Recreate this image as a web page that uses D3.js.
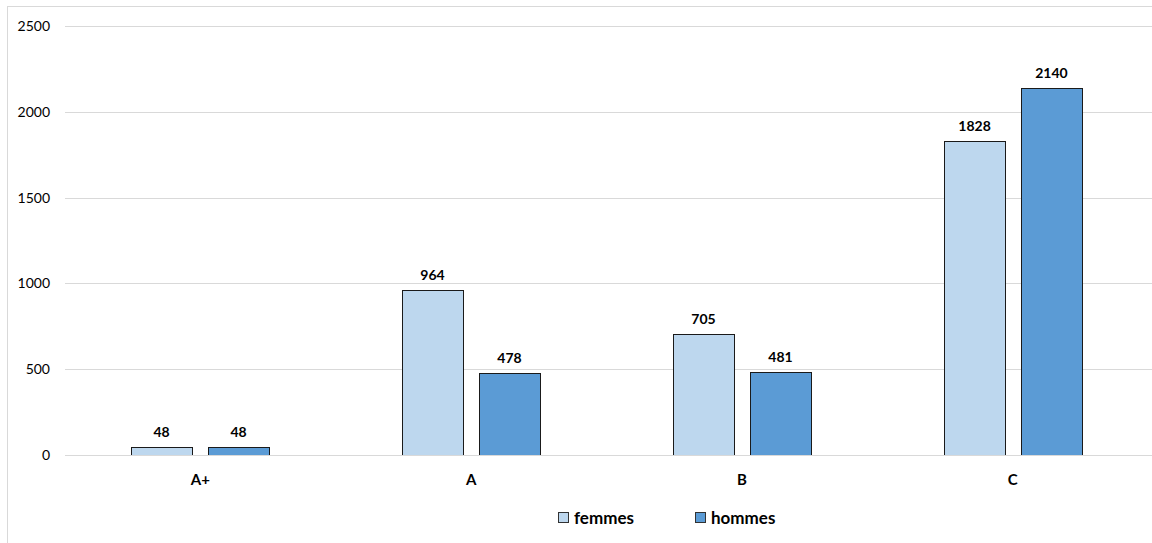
<!DOCTYPE html>
<html>
<head>
<meta charset="utf-8">
<script src="https://cdn.jsdelivr.net/npm/d3@7"></script>
<style>
  html, body { margin: 0; padding: 0; background: #fff; }
  svg { display: block; font-family: Lato, "Open Sans", "Liberation Sans", sans-serif; }
</style>
</head>
<body>
<svg id="chart" width="1152" height="543"></svg>
<script>
// Effectifs par catégorie et par sexe
const categories = ["A+", "A", "B", "C"];
const seriesNames = ["femmes", "hommes"];
const femmes = [48, 964, 705, 1828];
const hommes = [48, 478, 481, 2140];
const yTicks = [0, 500, 1000, 1500, 2000, 2500];
const colors = ["#BDD7EE", "#5B9BD5"];

const FONT = "Lato, 'Open Sans', 'Liberation Sans', sans-serif";
const svg = d3.select("#chart");
const W = 1152, H = 543;
const margin = { left: 65, right: 4, top: 26, bottom: 88 };

// Chart frame
svg.append("rect")
  .attr("x", 7.5).attr("y", 6.5)
  .attr("width", W + 10).attr("height", H + 10)
  .attr("fill", "none").attr("stroke", "#d9d9d9").attr("stroke-width", 1);

const x0 = d3.scaleBand()
  .domain(categories)
  .range([margin.left, W - margin.right])
  .paddingInner(0).paddingOuter(0);

const y = d3.scaleLinear()
  .domain([0, 2500])
  .range([H - margin.bottom, margin.top]);

// Grid lines (the zero line is drawn after the bars)
svg.append("g")
  .selectAll("line")
  .data(yTicks.filter(d => d !== 0))
  .join("line")
  .attr("x1", margin.left).attr("x2", W)
  .attr("y1", d => Math.round(y(d)) + 0.5)
  .attr("y2", d => Math.round(y(d)) + 0.5)
  .attr("stroke", "#d9d9d9").attr("stroke-width", 1);

// Y axis labels
const yAxis = d3.axisLeft(y).tickValues(yTicks).tickFormat(d3.format("d")).tickSize(0).tickPadding(0);
const gy = svg.append("g")
  .attr("transform", `translate(${margin.left - 15},0)`)
  .call(yAxis);
gy.select(".domain").remove();
gy.attr("font-family", FONT).attr("font-size", 14);
gy.selectAll("text").attr("fill", "#000");

// Bars
const barW = 61, gap = 16;
const rows = categories.map((c, i) => ({ cat: c, vals: [femmes[i], hommes[i]] }));

const groups = svg.append("g")
  .selectAll("g")
  .data(rows)
  .join("g")
  .attr("transform", d => `translate(${Math.round(x0(d.cat) + x0.bandwidth() / 2)},0)`);

const x1 = d3.scaleBand()
  .domain(seriesNames)
  .range([-(barW + gap / 2), barW + gap / 2])
  .paddingInner(gap / (barW + gap));

groups.selectAll("rect")
  .data(d => d.vals.map((v, j) => ({ key: seriesNames[j], v, j })))
  .join("rect")
  .attr("x", d => Math.round(x1(d.key)) + 0.5)
  .attr("y", d => Math.round(y(d.v)) + 0.5)
  .attr("width", Math.round(x1.bandwidth()))
  .attr("height", d => y(0) - Math.round(y(d.v)))
  .attr("fill", d => colors[d.j])
  .attr("stroke", "#1a1a1a").attr("stroke-width", 1);

groups.selectAll("text.val")
  .data(d => d.vals.map((v, j) => ({ key: seriesNames[j], v, j })))
  .join("text")
  .attr("class", "val")
  .attr("x", d => x1(d.key) + x1.bandwidth() / 2)
  .attr("y", d => y(d.v) - 10)
  .attr("text-anchor", "middle")
  .attr("font-size", 14)
  .attr("font-weight", "bold")
  .text(d => d.v);

// Zero baseline over the bar bottoms
svg.append("line")
  .attr("x1", margin.left).attr("x2", W)
  .attr("y1", Math.round(y(0)) + 0.5)
  .attr("y2", Math.round(y(0)) + 0.5)
  .attr("stroke", "#d9d9d9").attr("stroke-width", 1);

// Category labels
const xAxis = d3.axisBottom(x0).tickSize(0).tickPadding(0);
const gx = svg.append("g")
  .attr("transform", `translate(0,${y(0) + 19})`)
  .call(xAxis);
gx.select(".domain").remove();
gx.attr("font-family", FONT).attr("font-size", 15).attr("font-weight", "bold");
gx.selectAll("text").attr("fill", "#000").attr("dy", "0.71em");

// Legend
const legendX = [558, 695];
const legend = svg.append("g")
  .selectAll("g")
  .data(seriesNames)
  .join("g")
  .attr("transform", (d, i) => `translate(${legendX[i]},${512})`);
legend.append("rect")
  .attr("x", 0.5).attr("y", 0.5)
  .attr("width", 10).attr("height", 10)
  .attr("fill", (d, i) => colors[i])
  .attr("stroke", "#333").attr("stroke-width", 1);
legend.append("text")
  .attr("x", 16).attr("y", 6)
  .attr("dy", "0.35em")
  .attr("font-size", 17)
  .attr("font-weight", "bold")
  .text(d => d);
</script>
</body>
</html>
